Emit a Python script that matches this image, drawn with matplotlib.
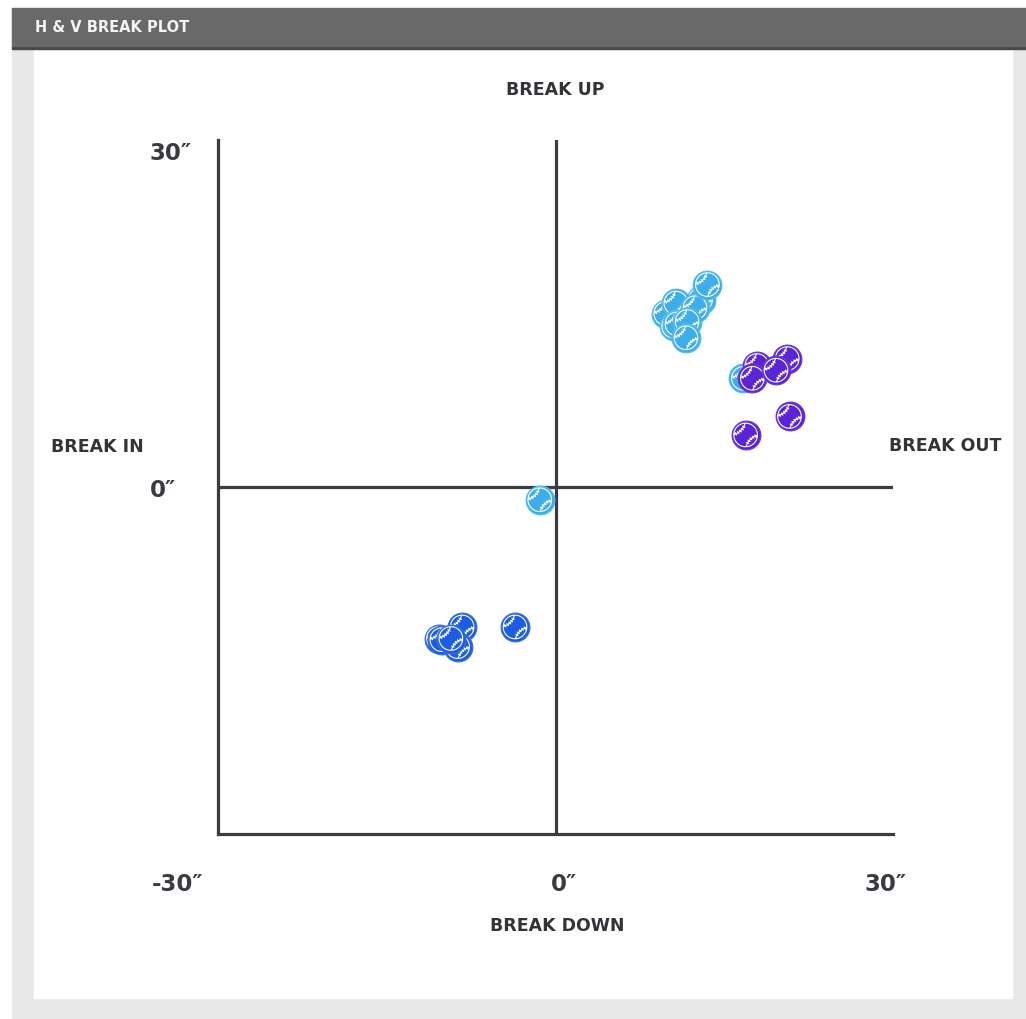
import numpy as np
import matplotlib
matplotlib.use('Agg')
import matplotlib.pyplot as plt
from matplotlib.path import Path
from matplotlib.patches import Rectangle

plt.rcParams['font.family'] = ['DejaVu Sans']

# 数据：水平位移 / 垂直位移（英寸）
light_x = [9.8, 10.7, 12.9, 12.4, 10.5, 10.8, 11.7, 11.6, 13.5, 16.7, -1.4]
light_y = [15.0, 15.9, 16.2, 15.5, 13.9, 14.1, 14.3, 12.9, 17.5, 9.4, -1.1]
purple_x = [17.9, 20.6, 17.5, 19.6, 20.8, 16.9]
purple_y = [10.5, 11.1, 9.4, 10.1, 6.1, 4.5]
dark_x = [-3.6, -8.3, -10.4, -10.1, -8.7, -9.3]
dark_y = [-12.1, -12.1, -13.1, -13.2, -13.8, -13.1]

x_ticks = [-30, 0, 30]
y_ticks = [0, 30]
tick_labels_x = ['-30\u2033', '0\u2033', '30\u2033']
tick_labels_y = ['0\u2033', '30\u2033']

W, H = 1026, 1019


def fx(px):
    return px / W


def fy(py):
    return 1 - py / H


def baseball_marker():
    """白色内圈 + 两条缝线 + 针脚"""
    verts, codes = [], []
    # 固定缩放范围
    for p in [(1, 0), (-1, 0), (0, 1), (0, -1)]:
        verts.append(p)
        codes.append(Path.MOVETO)
    t = np.linspace(0, 2 * np.pi, 60)
    ring = 0.82 * np.column_stack([np.cos(t), np.sin(t)])
    verts.extend(ring.tolist())
    codes.extend([Path.MOVETO] + [Path.LINETO] * (len(ring) - 1))
    for sgn in (1, -1):
        c = np.array([-1.06 * sgn, 1.06 * sgn])
        R = 1.05
        phi0 = np.arctan2(-c[1], -c[0])
        phi = np.linspace(phi0 - 1.2, phi0 + 1.2, 300)
        pts = c + R * np.column_stack([np.cos(phi), np.sin(phi)])
        keep = np.linalg.norm(pts, axis=1) <= 0.80
        pts = pts[keep]
        phi = phi[keep]
        verts.extend(pts.tolist())
        codes.extend([Path.MOVETO] + [Path.LINETO] * (len(pts) - 1))
        idx = np.linspace(0, len(pts) - 1, 7)[1:-1].astype(int)
        for i in idx:
            n = np.array([np.cos(phi[i]), np.sin(phi[i])])
            tang = np.array([-n[1], n[0]])
            p = pts[i]
            verts.append((p + 0.12 * n - 0.06 * tang).tolist())
            verts.append((p - 0.12 * n - 0.06 * tang).tolist())
            codes.extend([Path.MOVETO, Path.LINETO])
    return Path(np.array(verts), codes)


fig = plt.figure(figsize=(W / 100, H / 100), dpi=100)
fig.patch.set_facecolor('white')

# 背景面板
fig.add_artist(Rectangle((fx(12), fy(1019)), fx(1014), 1019 / H - 48 / H,
                         transform=fig.transFigure, color='#e8e8e8', zorder=0))
fig.add_artist(Rectangle((fx(34), fy(998)), fx(978), 950 / H,
                         transform=fig.transFigure, color='white', zorder=0))
fig.add_artist(Rectangle((fx(12), fy(49)), fx(1014), 3 / H,
                         transform=fig.transFigure, color='#47474e', zorder=0))
fig.add_artist(Rectangle((fx(12), fy(46)), fx(1014), 38 / H,
                         transform=fig.transFigure, color='#696969', zorder=0))
fig.text(fx(35), fy(27), 'H & V BREAK PLOT', color='#f4f4f4', fontsize=10.5,
         fontweight='bold', va='center', ha='left')

ax = fig.add_axes([fx(218), fy(834), 675 / W, 694 / H])
ax.set_facecolor('none')
ax.set_xlim(-30, 30)
ax.set_ylim(-30, 30)
line_c = '#3b3b42'
for side in ['top', 'right']:
    ax.spines[side].set_visible(False)
for side in ['left', 'bottom']:
    ax.spines[side].set_color(line_c)
    ax.spines[side].set_linewidth(2.3)
ax.axhline(0, color=line_c, lw=2.3, zorder=1)
ax.axvline(0, color=line_c, lw=2.3, zorder=1)
ax.set_xticks([])
ax.set_yticks([])

tick_c = '#3a3a40'
x_off = [-40, 8, -7]
for v, lab, off in zip(x_ticks, tick_labels_x, x_off):
    ax.annotate(lab, xy=(v, -30), xytext=(off, -57), textcoords='offset pixels',
                ha='center', va='baseline', fontsize=16.5, fontweight='bold',
                color=tick_c, annotation_clip=False)
y_off = [-10, -20]
for v, lab, off in zip(y_ticks, tick_labels_y, y_off):
    ax.annotate(lab, xy=(-30, v), xytext=(-68, off), textcoords='offset pixels',
                ha='left', va='baseline', fontsize=16.5, fontweight='bold',
                color=tick_c, annotation_clip=False)

lab_c = '#333338'
fig.text(fx(555), fy(90), 'BREAK UP', ha='center', va='center', fontsize=12.5,
         fontweight='bold', color=lab_c)
fig.text(fx(557), fy(926), 'BREAK DOWN', ha='center', va='center', fontsize=12.5,
         fontweight='bold', color=lab_c)
fig.text(fx(97), fy(447), 'BREAK IN', ha='center', va='center', fontsize=12.5,
         fontweight='bold', color=lab_c)
fig.text(fx(945), fy(446), 'BREAK OUT', ha='center', va='center', fontsize=12.5,
         fontweight='bold', color=lab_c)

# 棒球标记
ball = baseball_marker()
size = 430
groups = [
    (light_x, light_y, '#3daeec', '#5bbcf0'),
    (purple_x, purple_y, '#5a23d6', '#6a3ad9'),
    (dark_x, dark_y, '#1b5ce2', '#3a70e6'),
]
z = 3
for xs, ys, fc, ec in groups:
    for x, y in zip(xs, ys):
        ax.scatter([x], [y], s=size, marker='o', facecolor=fc, edgecolor=ec,
                   linewidths=0.8, zorder=z, clip_on=False)
        ax.scatter([x], [y], s=size, marker=ball, facecolor='none',
                   edgecolor='white', linewidths=0.8, zorder=z + 0.5, clip_on=False)
        z += 1

fig.savefig('out.png', dpi=100, facecolor=fig.get_facecolor())
